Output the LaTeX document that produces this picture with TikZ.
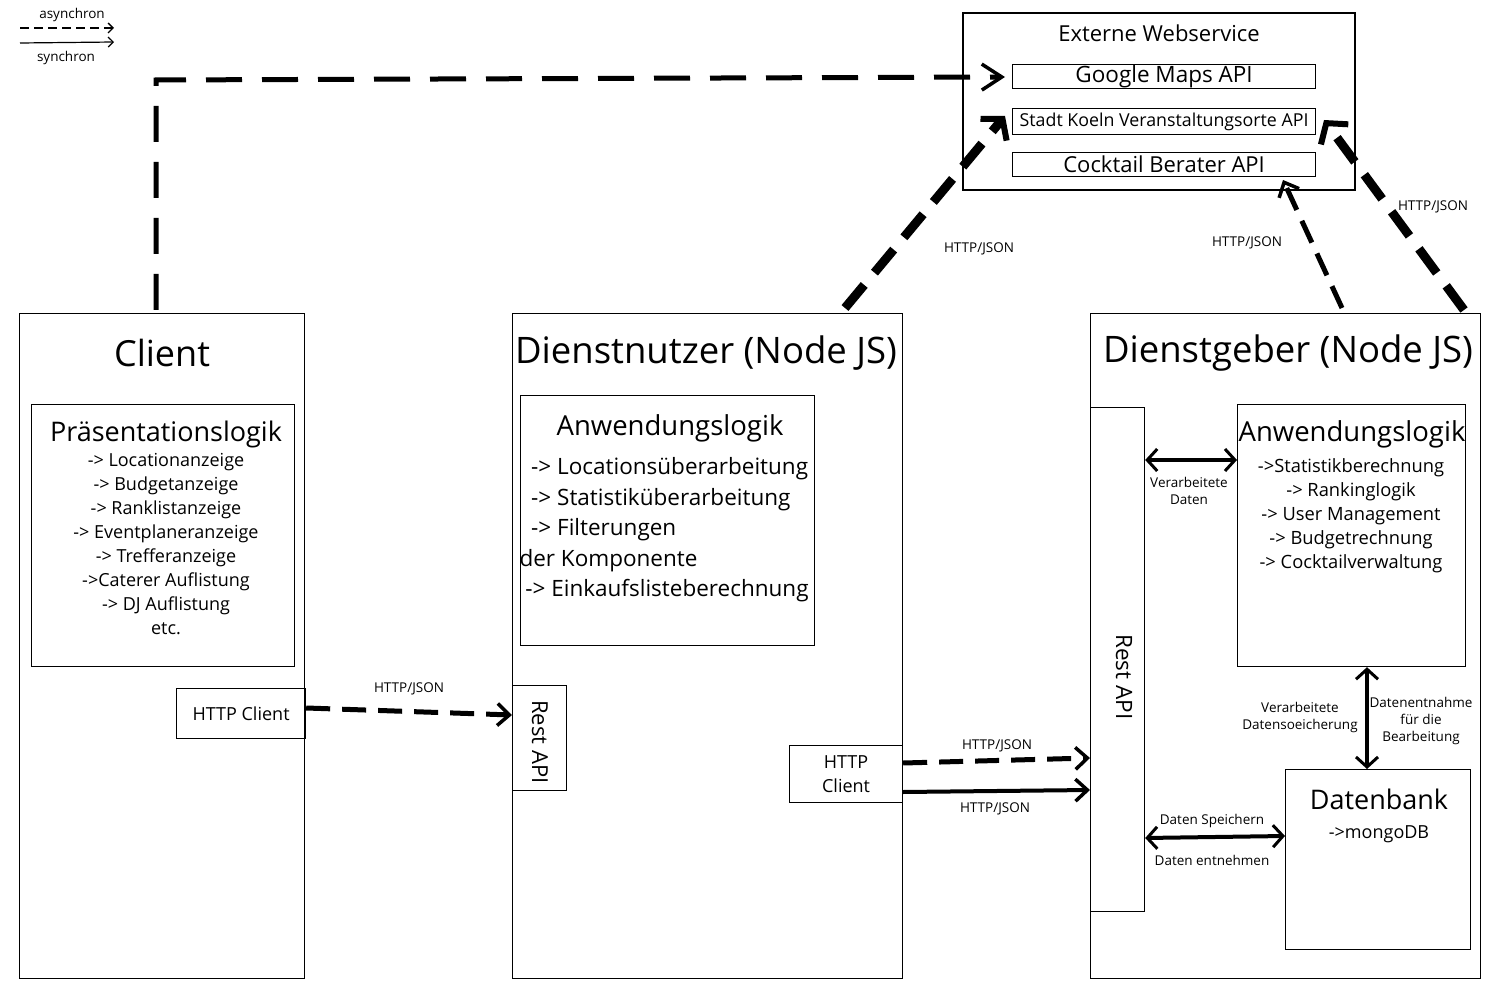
\documentclass[tikz,border=0pt]{standalone}
\usepackage{fontspec}
\setmainfont{Open Sans}
\usetikzlibrary{arrows.meta}
\newcommand{\fsz}[1]{\fontsize{#1}{\fpeval{#1*1.25}}\selectfont}
\newcommand{\fszb}[2]{\fontsize{#1}{#2}\selectfont}
\tikzset{
  box/.style={draw, line width=1.2pt, inner sep=0pt},
  lbl/.style={font=\fszb{13.5}{17}, align=center, inner sep=1pt},
  barb/.style={-{Straight Barb[length=12pt,width=22pt,line width=3.5pt]}},
  async/.style={line width=5pt, dash pattern=on 36pt off 20pt, -{Straight Barb[length=20pt,width=26pt,line width=3.5pt]}},
  asyncheavy/.style={line width=9pt, dash pattern=on 30pt off 16pt, -{Straight Barb[length=14pt,width=34pt,line width=6pt]}},
  asyncmid/.style={line width=5pt, dash pattern=on 24pt off 12pt, barb},
  sync/.style={line width=4pt, barb},
  both/.style={line width=4pt, {Straight Barb[length=10pt,width=22pt,line width=3pt]}-{Straight Barb[length=10pt,width=22pt,line width=3pt]}},
}
\begin{document}
\begin{tikzpicture}[x=1pt,y=-1pt]
\useasboundingbox (0,0) rectangle (1500,1000);
\fill[white] (0,0) rectangle (1500,1000);
% legend
\node[lbl] (asy) at (72,15) {asynchron};
\coordinate (la1) at (20,28); \coordinate (la2) at (114,28);
\draw[line width=1.6pt, dash pattern=on 9pt off 5pt, -{Straight Barb[length=5pt,width=10pt,line width=1.4pt]}] (la1) -- (la2);
\coordinate (ls1) at (20,43); \coordinate (ls2) at (114,42);
\draw[line width=1.2pt, -{Straight Barb[length=5pt,width=10pt,line width=1.2pt]}] (ls1) -- (ls2);
\node[lbl] (syn) at (66,58) {synchron};

% Externe Webservice
\draw[box] (963,13) rectangle (1355,190);
\node (extt) at (1159,33) {\fsz{22}Externe Webservice};
\node[box, minimum width=303pt, minimum height=24pt, anchor=north west] (gm) at (1012,64) {\fsz{22.5}\raisebox{-2pt}{Google Maps API}};
\node[box, minimum width=303pt, minimum height=26pt, anchor=north west] (sk) at (1012,108) {\fsz{17.8}Stadt Koeln Veranstaltungsorte API};
\node[box, minimum width=303pt, minimum height=24pt, anchor=north west] (cb) at (1012,152) {\fsz{22}\raisebox{-1.5pt}{Cocktail Berater API}};

% Client
\node[box, minimum width=285pt, minimum height=665pt, anchor=north west] (client) at (19,313) {};
\node (clientt) at (162,353) {\fsz{36}Client};
\node[box, minimum width=263pt, minimum height=262pt, anchor=north west] (pres) at (31,404) {};
\node (prest) at (166,434) {\fsz{27}Präsentationslogik};
\node[align=center, anchor=north, font=\fszb{18}{24}] (presl) at (166,450) {-> Locationanzeige\\ -> Budgetanzeige\\ -> Ranklistanzeige\\ -> Eventplaneranzeige\\ -> Trefferanzeige\\ ->Caterer Auflistung\\ -> DJ Auflistung\\ etc.};
\node[box, minimum width=129pt, minimum height=50pt, anchor=north west] (chc) at (176,688) {\fsz{18}HTTP Client};

% Dienstnutzer
\node[box, minimum width=390pt, minimum height=665pt, anchor=north west] (dn) at (512,313) {};
\node (dnt) at (706,353) {\fsz{36.5}Dienstnutzer (Node JS)};
\node[box, minimum width=294pt, minimum height=250pt, anchor=north west] (dnal) at (520,395) {};
\node (dnalt) at (670,428) {\fsz{27.5}Anwendungslogik};
\node[align=left, anchor=north west, font=\fszb{22.5}{30.5}] (dnl) at (516,454) {\ \ -> Locationsüberarbeitung\\ \ \ -> Statistiküberarbeitung\\ \ \ -> Filterungen\\der Komponente\\ \ -> Einkaufslisteberechnung};
\node[box, minimum width=54pt, minimum height=105pt, anchor=north west] (dnra) at (512,685) {};
\node[rotate=-90] (dnrat) at (540,742) {\fsz{22}Rest API};
\node[box, minimum width=113pt, minimum height=57pt, anchor=north west, align=center, font=\fszb{18}{24}] (dnhc) at (789,745) {HTTP\\Client};

% Dienstgeber
\node[box, minimum width=390pt, minimum height=665pt, anchor=north west] (dg) at (1090,313) {};
\node (dgt) at (1288,353) {\fsz{36.5}Dienstgeber (Node JS)};
\node[box, minimum width=54pt, minimum height=504pt, anchor=north west] (dgra) at (1090,407) {};
\node[rotate=-90] (dgrat) at (1124,677) {\fsz{22.5}Rest API};
\node[box, minimum width=228pt, minimum height=262pt, anchor=north west] (dgal) at (1237,404) {};
\node (dgalt) at (1352,434) {\fsz{27.5}Anwendungslogik};
\node[align=center, anchor=north, font=\fszb{18.3}{24}] (dgl) at (1351,455) {->Statistikberechnung\\ -> Rankinglogik\\ -> User Management\\ -> Budgetrechnung\\ -> Cocktailverwaltung};
\node[box, minimum width=185pt, minimum height=180pt, anchor=north west] (db) at (1285,769) {};
\node (dbt) at (1379,799) {\fsz{27}Datenbank};
\node (dbm) at (1379,834) {\fsz{18}->mongoDB};

% connectors
\coordinate (c1) at (156,310);
\coordinate (c2) at (156,80);
\coordinate (c3) at (1005,77);
\draw[async] (c1) -- (c2) -- (c3);

\coordinate (d1) at (845,308);
\coordinate (d2) at (1005,116);
\draw[asyncheavy] (d1) -- (d2);

\coordinate (g1) at (1342,308);
\coordinate (g2) at (1283,180);
\draw[asyncmid] (g1) -- (g2);

\coordinate (h1) at (1464,310);
\coordinate (h2) at (1324,120);
\draw[asyncheavy] (h1) -- (h2);

\draw[asyncmid] (chc.east |- 0,708) -- (dnra.west |- 0,715);
\draw[asyncmid] (dnhc.east |- 0,763) -- (dgra.west |- 0,758);
\draw[sync] (dnhc.east |- 0,792) -- (dgra.west |- 0,790);

\draw[both] (dgra.east |- 0,460) -- (dgal.west |- 0,460);
\draw[both] (dgal.south -| 1367,0) -- (db.north -| 1367,0);
\draw[both] (dgra.east |- 0,838) -- (db.west |- 0,836);

% labels
\node[lbl] (l1) at (979,249) {HTTP/JSON};
\node[lbl] (l2) at (1247,243) {HTTP/JSON};
\node[lbl] (l3) at (1433,207) {HTTP/JSON};
\node[lbl] (l4) at (409,689) {HTTP/JSON};
\node[lbl] (l5) at (997,746) {HTTP/JSON};
\node[lbl] (l6) at (995,809) {HTTP/JSON};
\node[lbl] (l7) at (1189,491) {Verarbeitete\\Daten};
\node[lbl] (l8) at (1300,717) {Verarbeitete\\Datensoeicherung};
\node[lbl] (l9) at (1421,721) {Datenentnahme\\für die\\Bearbeitung};
\node[lbl] (l10) at (1212,821) {Daten Speichern};
\node[lbl] (l11) at (1212,860) {Daten entnehmen};
\end{tikzpicture}
\end{document}
